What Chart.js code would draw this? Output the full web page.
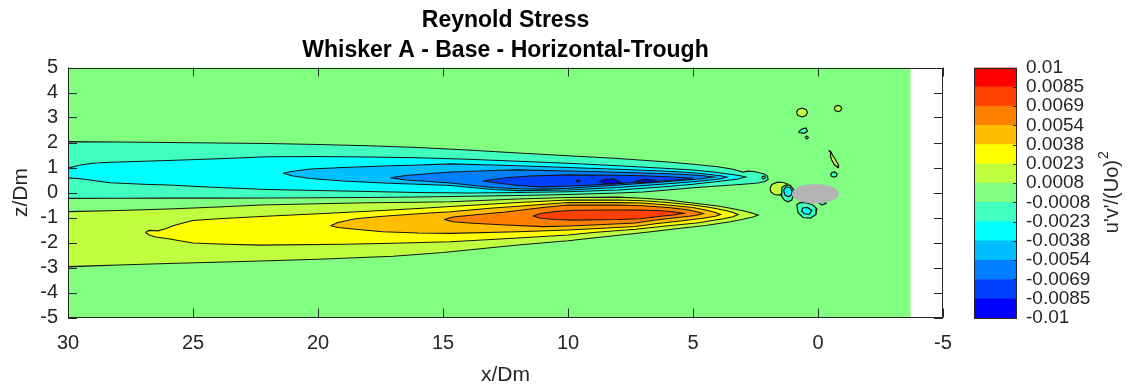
<!DOCTYPE html>
<html>
<head>
<meta charset="utf-8">
<title>Reynold Stress</title>
<script src="https://cdn.jsdelivr.net/npm/chart.js@4.4.1/dist/chart.umd.min.js"></script>
<style>
  html, body { margin: 0; padding: 0; background: #fff; }
  #wrap { position: relative; width: 1134px; height: 388px; }
  #main { position: absolute; left: 0; top: 0; width: 960px; height: 388px; }
  #bar { position: absolute; left: 960px; top: 0; width: 174px; height: 388px; }
</style>
</head>
<body>
<div id="wrap">
  <div id="main"><canvas id="stressChart"></canvas></div>
  <div id="bar"><canvas id="colorBar"></canvas></div>
</div>
<script>
// contour levels of u'v'/(Uo)^2, bottom to top of the colour bar
const levelLabels = ['-0.01', '-0.0085', '-0.0069', '-0.0054', '-0.0038', '-0.0023', '-0.0008',
                     '0.0008', '0.0023', '0.0038', '0.0054', '0.0069', '0.0085', '0.01'];
const levelColors = ['#0000ff', '#0040ff', '#0080ff', '#00bfff', '#00ffff', '#40ffbf', '#80ff80',
                     '#bfff40', '#ffff00', '#ffbf00', '#ff8000', '#ff4000', '#ff0000'];

const xTicks = [30, 25, 20, 15, 10, 5, 0, -5];
const zTicks = [5, 4, 3, 2, 1, 0, -1, -2, -3, -4, -5];

// measured window (x/Dm, z/Dm)
const measuredDomain = [[30, -5], [30, 5], [-3.7, 5], [-3.7, -5]];

// negative stress lobe above the centreline, outer band first
const negAqua = [[30, 2.04], [28, 2.02], [26, 2.0], [24, 1.98], [22, 1.96], [20, 1.92], [18, 1.87], [16, 1.8],
  [14, 1.7], [12, 1.58], [10, 1.47], [8, 1.36], [6, 1.22], [5, 1.13], [4, 1.03], [3.4, 0.93], [3.0, 0.82],
  [2.8, 0.85], [2.55, 0.84], [2.35, 0.79], [2.15, 0.74], [2.02, 0.65], [2.0, 0.52], [2.12, 0.44], [2.4, 0.38],
  [3.0, 0.33], [4, 0.26], [5, 0.19], [6, 0.1], [7, 0.02], [8, -0.02], [10, -0.08], [12, -0.12], [14, -0.15],
  [16, -0.18], [18, -0.2], [20, -0.21], [22, -0.22], [24, -0.22], [26, -0.22], [28, -0.23], [30, -0.23]];
const noseHole = [[2.26, 0.6], [2.18, 0.66], [2.1, 0.6], [2.18, 0.54]];
const negCyan = [[30, 0.97], [29.5, 1.1], [29, 1.17], [28.3, 1.21], [27, 1.25], [26, 1.28], [24, 1.35], [22, 1.43],
  [20, 1.44], [18, 1.42], [16, 1.39], [14, 1.33], [12, 1.25], [10, 1.17], [8, 1.07], [6, 0.96], [5, 0.9],
  [4.2, 0.82], [3.5, 0.73], [3.1, 0.67], [2.9, 0.62], [3.2, 0.54], [3.6, 0.49], [4.2, 0.42], [5, 0.33], [6, 0.24],
  [7, 0.17], [8, 0.1], [10, 0.03], [12, 0.0], [14, -0.02], [16, 0.0], [18, 0.04], [20, 0.08], [22, 0.12],
  [24, 0.2], [26, 0.3], [27, 0.33], [28.3, 0.39], [29, 0.48], [29.5, 0.55], [30, 0.59]];
const negSky = [[21.4, 0.77], [21.0, 0.85], [20.3, 0.94], [19, 1.0], [17.4, 1.06], [16, 1.1], [14.7, 1.14],
  [13, 1.1], [12, 1.07], [10, 1.0], [8, 0.93], [6, 0.85], [5, 0.79], [4.3, 0.72], [3.9, 0.67], [3.65, 0.62],
  [3.9, 0.55], [4.3, 0.5], [5, 0.43], [6, 0.35], [8, 0.2], [10, 0.1], [12, 0.08], [13, 0.12], [14.7, 0.28],
  [16, 0.33], [17.4, 0.38], [19, 0.46], [20.3, 0.56], [21, 0.66]];
const negAzure = [[17.1, 0.59], [16.5, 0.68], [15.5, 0.76], [14.7, 0.82], [13, 0.88], [12, 0.9], [10, 0.86],
  [8, 0.81], [6, 0.75], [5.5, 0.73], [5, 0.7], [4.6, 0.67], [4.2, 0.62], [4.6, 0.56], [5, 0.52], [6, 0.44],
  [8, 0.3], [10, 0.17], [11, 0.14], [12, 0.15], [13, 0.2], [14.7, 0.38], [15.5, 0.44], [16.5, 0.5]];
const negDeep = [[13.4, 0.46], [13.0, 0.52], [12.4, 0.6], [11.5, 0.66], [10, 0.7], [8, 0.69], [7, 0.67], [6, 0.63],
  [5.5, 0.6], [5.0, 0.57], [5.4, 0.52], [6, 0.48], [7, 0.42], [8, 0.36], [9, 0.3], [10, 0.26], [11, 0.23],
  [12, 0.28], [12.8, 0.38]];
const negCoreA = [[8.75, 0.44], [8.55, 0.52], [8.2, 0.54], [8.0, 0.46], [7.85, 0.38], [8.2, 0.35], [8.6, 0.38]];
const negCoreB = [[7.3, 0.45], [7.0, 0.52], [6.6, 0.5], [6.4, 0.45], [6.7, 0.41], [7.1, 0.41]];
const negCoreDot = [[9.68, 0.46], [9.6, 0.5], [9.52, 0.46], [9.6, 0.42]];

// positive stress lobe below the centreline
const posLime = [[30, -0.77], [28, -0.72], [26, -0.66], [24, -0.58], [22.3, -0.5], [20, -0.45], [18, -0.41],
  [16, -0.39], [14.7, -0.37], [13, -0.3], [12, -0.26], [10, -0.2], [8, -0.19], [7, -0.23], [6, -0.3], [5, -0.42],
  [4, -0.54], [3.5, -0.63], [3, -0.73], [2.6, -0.83], [2.4, -0.9], [2.6, -0.98], [3, -1.07], [3.5, -1.17],
  [4.5, -1.32], [5.5, -1.43], [6.5, -1.55], [7.5, -1.66], [9, -1.82], [10, -1.93], [12, -2.1], [15, -2.4],
  [17, -2.55], [20, -2.67], [22.3, -2.74], [26, -2.84], [28, -2.9], [30, -2.97]];
const posYellow = [[26.9, -1.6], [26.75, -1.52], [26.4, -1.53], [26.1, -1.45], [25.8, -1.33], [25.4, -1.22],
  [25, -1.12], [24, -1.05], [22.3, -0.96], [20, -0.85], [18, -0.75], [16, -0.64], [14.7, -0.56], [13, -0.46],
  [12, -0.4], [10, -0.3], [8, -0.3], [7, -0.33], [6, -0.4], [5, -0.5], [4.3, -0.6], [3.7, -0.72], [3.4, -0.8],
  [3.2, -0.88], [3.4, -0.97], [3.8, -1.05], [4.85, -1.22], [6, -1.33], [7.3, -1.47], [9, -1.6], [10, -1.7],
  [12, -1.82], [14.7, -1.97], [17, -2.03], [19, -2.07], [22.3, -2.1], [24, -2.06], [25, -2.02], [26.05, -1.84],
  [26.5, -1.78], [26.75, -1.7]];
const posAmber = [[19.5, -1.33], [19.2, -1.2], [18.5, -1.05], [17.4, -0.95], [16, -0.85], [14.7, -0.77],
  [13, -0.62], [12, -0.55], [10, -0.4], [8, -0.4], [7, -0.42], [6, -0.5], [5, -0.6], [4.4, -0.72], [4.1, -0.8],
  [3.9, -0.88], [4.1, -0.95], [4.6, -1.03], [5.5, -1.14], [6.5, -1.25], [7.3, -1.36], [9, -1.45], [10, -1.5],
  [12, -1.57], [14.7, -1.63], [16, -1.62], [17.4, -1.57], [18.5, -1.47], [19.2, -1.4]];
const posOrange = [[14.95, -1.08], [14.6, -0.98], [13.8, -0.9], [12.5, -0.78], [11, -0.6], [10, -0.5], [8, -0.5],
  [7, -0.53], [6, -0.6], [5.3, -0.68], [4.9, -0.76], [4.6, -0.84], [4.9, -0.92], [5.5, -0.99], [6.5, -1.1],
  [7.3, -1.22], [9, -1.3], [10, -1.34], [11, -1.36], [12.5, -1.3], [13.8, -1.23], [14.6, -1.17]];
const posRed = [[11.4, -0.94], [11.1, -0.84], [10.5, -0.76], [9.8, -0.71], [8, -0.7], [7.1, -0.7], [6.3, -0.73],
  [5.8, -0.77], [5.4, -0.83], [5.8, -0.9], [6.3, -0.95], [7.1, -1.05], [8, -1.08], [9.8, -1.1], [10.5, -1.08],
  [11.1, -1.03]];

// small patches shed around the whisker
const bodyLimeLeft = [[1.92, 0.15], [1.85, 0.32], [1.62, 0.41], [1.38, 0.4], [1.22, 0.34], [1.3, 0.15], [1.4, -0.02],
  [1.55, -0.1], [1.75, -0.08], [1.88, 0.02]];
const bodyAquaLeft = [[1.45, 0.2], [1.3, 0.3], [1.12, 0.3], [1.0, 0.15], [0.98, -0.1], [1.05, -0.3], [1.2, -0.37],
  [1.35, -0.3], [1.48, -0.1]];
const bodyCyanLeft = [[1.38, 0.1], [1.28, 0.22], [1.12, 0.2], [1.04, 0.05], [1.07, -0.1], [1.18, -0.17], [1.32, -0.1]];
const bodyAquaBelow = [[0.85, -0.48], [0.7, -0.4], [0.45, -0.42], [0.2, -0.5], [0.05, -0.65], [0.08, -0.88],
  [0.3, -1.02], [0.6, -1.0], [0.8, -0.8]];
const bodyCyanBelow = [[0.62, -0.62], [0.42, -0.6], [0.25, -0.72], [0.35, -0.87], [0.55, -0.85], [0.65, -0.75]];
const bodyAquaRight = [[0.0, -0.38], [-0.2, -0.35], [-0.32, -0.43], [-0.15, -0.5]];
const bodyLimeTop = [[0.86, 3.2], [0.8, 3.32], [0.64, 3.37], [0.48, 3.32], [0.42, 3.2], [0.48, 3.08], [0.64, 3.03],
  [0.8, 3.08]];
const bodyLimeTopRight = [[-0.65, 3.36], [-0.7, 3.45], [-0.8, 3.48], [-0.9, 3.45], [-0.95, 3.36], [-0.9, 3.27],
  [-0.8, 3.24], [-0.7, 3.27]];
const bodyAquaTop = [[0.78, 2.4], [0.55, 2.37], [0.42, 2.45], [0.48, 2.58], [0.62, 2.55], [0.72, 2.48]];
const bodyAquaDot = [[0.52, 2.2], [0.45, 2.26], [0.38, 2.2], [0.45, 2.14]];
const bodyLimeSliver = [[-0.42, 1.68], [-0.5, 1.62], [-0.5, 1.45], [-0.55, 1.3], [-0.65, 1.12], [-0.8, 1.0],
  [-0.82, 1.1], [-0.75, 1.22], [-0.68, 1.35], [-0.58, 1.5], [-0.5, 1.65]];
const bodyAquaSmall = [[-0.5, 0.72], [-0.56, 0.8], [-0.66, 0.82], [-0.76, 0.76], [-0.74, 0.66], [-0.64, 0.62],
  [-0.54, 0.65]];

// whisker cross-section (masked)
const whiskerOutline = [[1.05, -0.05], [0.978, 0.099], [0.772, 0.226], [0.464, 0.31], [0.1, 0.34], [-0.264, 0.31],
  [-0.572, 0.226], [-0.778, 0.099], [-0.85, -0.05], [-0.778, -0.199], [-0.572, -0.326], [-0.264, -0.41],
  [0.1, -0.44], [0.464, -0.41], [0.772, -0.326], [0.978, -0.199]];

// painting order: each patch with its level band
const contourLayers = [
  [measuredDomain, 6, false],
  [negAqua, 5, true], [noseHole, 6, true], [negCyan, 4, true], [negSky, 3, true], [negAzure, 2, true],
  [negDeep, 1, true], [negCoreA, 0, true], [negCoreB, 0, true], [negCoreDot, 0, true],
  [posLime, 7, true], [posYellow, 8, true], [posAmber, 9, true], [posOrange, 10, true], [posRed, 11, true],
  [bodyLimeLeft, 7, true], [bodyAquaLeft, 5, true], [bodyCyanLeft, 4, true],
  [bodyAquaBelow, 5, true], [bodyCyanBelow, 4, true], [bodyAquaRight, 5, true],
  [bodyLimeTop, 7, true], [bodyLimeTopRight, 7, true], [bodyAquaTop, 5, true], [bodyAquaDot, 5, true],
  [bodyLimeSliver, 7, true], [bodyAquaSmall, 5, true]
];

const FONT = '"Liberation Sans", Arial, Helvetica, sans-serif';
const INK = '#262626';

function patch(pts, color, edge) {
  const closed = pts.concat([pts[0]]);
  return {
    data: closed.map(p => ({x: p[0], y: p[1]})),
    backgroundColor: color,
    borderColor: edge ? '#161616' : 'rgba(0,0,0,0)',
    borderWidth: edge ? 1.25 : 0,
    fill: 'shape',
    pointRadius: 0,
    pointHoverRadius: 0,
    tension: 0
  };
}

const datasets = contourLayers.map(([pts, band, edge]) => patch(pts, levelColors[band], edge));
datasets.push(patch(whiskerOutline, '#b3b3b3', false));
// chart.js paints the first dataset last, so flip to keep the painting order
datasets.reverse();

// box with inward tick marks on all four sides
const axisBox = {
  id: 'axisBox',
  afterDatasetsDraw(chart) {
    const {ctx, chartArea: a, scales: {x, y}} = chart;
    const len = 9;
    ctx.save();
    ctx.strokeStyle = INK;
    ctx.lineWidth = 1;
    ctx.beginPath();
    xTicks.forEach(v => {
      const px = Math.round(x.getPixelForValue(v)) + 0.5;
      ctx.moveTo(px, a.bottom); ctx.lineTo(px, a.bottom - len);
      ctx.moveTo(px, a.top); ctx.lineTo(px, a.top + len);
    });
    zTicks.forEach(v => {
      const py = Math.round(y.getPixelForValue(v)) + 0.5;
      ctx.moveTo(a.left, py); ctx.lineTo(a.left + len, py);
      ctx.moveTo(a.right, py); ctx.lineTo(a.right - len, py);
    });
    ctx.stroke();
    ctx.strokeRect(Math.round(a.left) + 0.5, Math.round(a.top) + 0.5,
                   Math.round(a.right - a.left) - 1, Math.round(a.bottom - a.top) - 1);
    ctx.restore();
  }
};

new Chart(document.getElementById('stressChart'), {
  type: 'line',
  data: {datasets: datasets},
  options: {
    responsive: true,
    maintainAspectRatio: false,
    animation: false,
    events: [],
    layout: {padding: {right: 17}},
    plugins: {
      legend: {display: false},
      tooltip: {enabled: false},
      title: {
        display: true,
        fullSize: false,
        text: ['Reynold Stress', 'Whisker A - Base - Horizontal-Trough'],
        color: '#000',
        font: {family: FONT, size: 23, weight: 'bold', lineHeight: 1.3},
        padding: {top: 6, bottom: 1.7}
      }
    },
    scales: {
      x: {
        type: 'linear',
        reverse: true,
        min: -5,
        max: 30,
        afterBuildTicks: s => { s.ticks = xTicks.map(v => ({value: v})); },
        afterFit: s => { s.height = 70.5; s.paddingLeft = 0; s.paddingRight = 0; },
        grid: {display: false, drawTicks: false},
        border: {display: false},
        ticks: {color: INK, font: {family: FONT, size: 20}, padding: 14, maxRotation: 0, autoSkip: false},
        title: {display: true, text: 'x/Dm', color: INK,
                font: {family: FONT, size: 21, lineHeight: 1}, padding: {top: 0, bottom: 2}}
      },
      y: {
        type: 'linear',
        min: -5,
        max: 5,
        afterBuildTicks: s => { s.ticks = zTicks.map(v => ({value: v})); },
        afterFit: s => { s.width = 68; },
        grid: {display: false, drawTicks: false},
        border: {display: false},
        ticks: {color: INK, font: {family: FONT, size: 20}, padding: 10, autoSkip: false},
        title: {display: true, text: 'z/Dm', color: INK,
                font: {family: FONT, size: 21, lineHeight: 1.2}, padding: {top: 9, bottom: 0}}
      }
    }
  },
  plugins: [axisBox]
});

// colour bar frame, inner ticks and rotated label
const barFrame = {
  id: 'barFrame',
  afterDraw(chart) {
    const {ctx, chartArea: a, scales: {y}} = chart;
    ctx.save();
    ctx.strokeStyle = INK;
    ctx.lineWidth = 1;
    ctx.beginPath();
    levelLabels.forEach((_, i) => {
      const py = Math.round(y.getPixelForValue(i)) + 0.5;
      ctx.moveTo(a.right, py); ctx.lineTo(a.right - 4, py);
    });
    ctx.stroke();
    ctx.strokeRect(Math.round(a.left) + 0.5, Math.round(a.top) + 0.5,
                   Math.round(a.right - a.left) - 1, Math.round(a.bottom - a.top) - 1);

    // u'v'/(Uo) with a raised 2, read bottom to top
    const base = "u'v'/(Uo)";
    ctx.translate(152, (a.top + a.bottom) / 2);
    ctx.rotate(-Math.PI / 2);
    ctx.fillStyle = INK;
    ctx.textBaseline = 'middle';
    ctx.textAlign = 'left';
    ctx.font = '20px ' + FONT;
    const w1 = ctx.measureText(base).width;
    ctx.font = '14px ' + FONT;
    const w2 = ctx.measureText('2').width;
    const x0 = -(w1 + w2) / 2;
    ctx.font = '20px ' + FONT;
    ctx.fillText(base, x0, 0);
    ctx.font = '14px ' + FONT;
    ctx.fillText('2', x0 + w1 + 1, -8);
    ctx.restore();
  }
};

new Chart(document.getElementById('colorBar'), {
  type: 'bar',
  data: {
    labels: [''],
    datasets: levelColors.map(c => ({
      data: [1],
      backgroundColor: c,
      borderWidth: 0,
      barPercentage: 1,
      categoryPercentage: 1
    }))
  },
  options: {
    responsive: true,
    maintainAspectRatio: false,
    animation: false,
    events: [],
    layout: {padding: {left: 14, top: 67.5, bottom: 70}},
    plugins: {legend: {display: false}, tooltip: {enabled: false}},
    scales: {
      x: {display: false, stacked: true},
      y: {
        stacked: true,
        position: 'right',
        min: 0,
        max: 13,
        afterBuildTicks: s => { s.ticks = levelLabels.map((_, i) => ({value: i})); },
        afterFit: s => { s.width = 117; },
        grid: {display: false, drawTicks: false},
        border: {display: false},
        ticks: {color: INK, font: {family: FONT, size: 19}, padding: 9, autoSkip: false,
                callback: v => levelLabels[v]}
      }
    }
  },
  plugins: [barFrame]
});
</script>
</body>
</html>
